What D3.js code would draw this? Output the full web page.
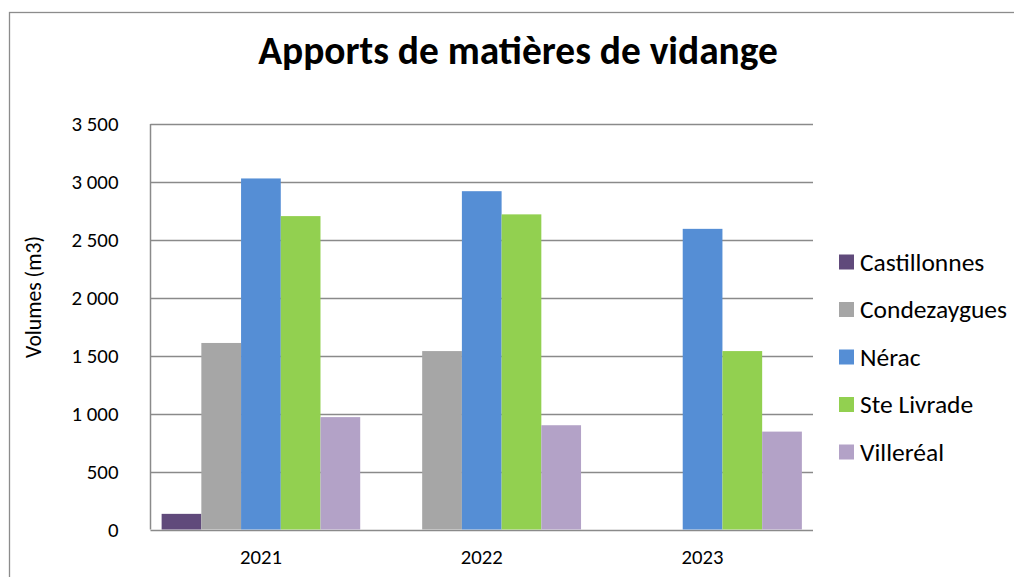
<!DOCTYPE html>
<html>
<head>
<meta charset="utf-8">
<script src="https://cdn.jsdelivr.net/npm/d3@7"></script>
<style>
  body { margin: 0; background: #fff; }
  svg text { font-family: Carlito, "Open Sans", sans-serif; fill: #000; }
</style>
</head>
<body>
<svg id="chart" width="1014" height="577"></svg>
<script>
// data
var years = ['2021', '2022', '2023'];
var seriesNames = ['Castillonnes', 'Condezaygues', 'Nérac', 'Ste Livrade', 'Villeréal'];
var castillonnes = [135, 0, 0];
var condezaygues = [1610, 1540, 0];
var nerac = [3030, 2920, 2595];
var steLivrade = [2705, 2720, 1540];
var villereal = [970, 900, 845];
var yTicks = [0, 500, 1000, 1500, 2000, 2500, 3000, 3500];

var colors = ['#604a7b', '#a6a6a6', '#558ed5', '#92d050', '#b3a2c7'];
var values = [castillonnes, condezaygues, nerac, steLivrade, villereal];

var svg = d3.select('#chart'),
    margin = {top: 124, right: 201, bottom: 47.5, left: 150.5},
    width = 1014 - margin.left - margin.right,
    height = 577 - margin.top - margin.bottom;

// shrink/grow a text so its width matches what the picture shows
function fitText(sel, targetWidth) {
    sel.style('font-size', '100px');
    var w = sel.node().getComputedTextLength();
    sel.style('font-size', (100 * targetWidth / w) + 'px');
    return sel;
}

// outer frame
svg.append('rect')
    .attr('x', 9.5).attr('y', 12.5)
    .attr('width', 1010).attr('height', 600)
    .attr('fill', 'none')
    .attr('stroke', '#8c8c8c')
    .attr('stroke-width', 1.3);

var g = svg.append('g')
    .attr('transform', 'translate(' + margin.left + ',' + margin.top + ')');

var x0 = d3.scaleBand().domain(years).range([0, width]);
var x1 = d3.scaleBand().domain(seriesNames).range([0, x0.bandwidth()]).paddingOuter(0.28);
var y = d3.scaleLinear().domain([0, 3500]).range([height, 0]);

// grid lines
g.selectAll('.grid')
    .data(yTicks)
    .enter().append('line')
    .attr('x1', 0).attr('x2', width)
    .attr('y1', function(d) { return Math.round(y(d)) + 0.5; })
    .attr('y2', function(d) { return Math.round(y(d)) + 0.5; })
    .attr('stroke', '#8a8a8a')
    .attr('stroke-width', 1.5);

// left axis line
g.append('line')
    .attr('x1', 0).attr('x2', 0)
    .attr('y1', y(3500)).attr('y2', height)
    .attr('stroke', '#8a8a8a')
    .attr('stroke-width', 1.5);

// bars
var groups = g.selectAll('.year')
    .data(years)
    .enter().append('g')
    .attr('transform', function(d) { return 'translate(' + x0(d) + ',0)'; });

groups.selectAll('rect')
    .data(function(d, i) {
        return seriesNames.map(function(s, j) { return {name: s, value: values[j][i], color: colors[j]}; });
    })
    .enter().append('rect')
    .filter(function(d) { return d.value > 0; })
    .attr('x', function(d) { return x1(d.name); })
    .attr('width', x1.bandwidth())
    .attr('y', function(d) { return y(d.value); })
    .attr('height', function(d) { return height - y(d.value); })
    .attr('fill', function(d) { return d.color; });

// y tick labels
var yLab = g.selectAll('.ytick')
    .data(yTicks)
    .enter().append('text')
    .attr('x', -32)
    .attr('y', function(d) { return y(d); })
    .attr('dy', '0.35em')
    .attr('text-anchor', 'end')
    .text(function(d) { return d3.format(',')(d).replace(',', ' '); });
var probe = yLab.filter(function(d) { return d == 3500; });
fitText(probe, 47);
yLab.style('font-size', probe.style('font-size'));

// x labels
var xLab = g.selectAll('.xtick')
    .data(years)
    .enter().append('text')
    .attr('x', function(d) { return x0(d) + x0.bandwidth() / 2; })
    .attr('y', height + 34)
    .attr('text-anchor', 'middle')
    .text(function(d) { return d; });
fitText(xLab.filter(function(d, i) { return i == 0; }), 42);
xLab.style('font-size', xLab.filter(function(d, i) { return i == 0; }).style('font-size'));

// y axis title
fitText(svg.append('text')
    .attr('transform', 'translate(41,297) rotate(-90)')
    .attr('text-anchor', 'middle')
    .text('Volumes (m3)'), 122);

// chart title
fitText(svg.append('text')
    .attr('x', 518)
    .attr('y', 64)
    .attr('text-anchor', 'middle')
    .style('font-weight', 'bold')
    .text('Apports de matières de vidange'), 520);

// legend
var legend = svg.selectAll('.legend')
    .data(seriesNames)
    .enter().append('g')
    .attr('transform', function(d, i) { return 'translate(839,' + (262 + i * 47.5) + ')'; });

legend.append('rect')
    .attr('x', 0).attr('y', -7.5)
    .attr('width', 15).attr('height', 15)
    .attr('fill', function(d, i) { return colors[i]; });

var legText = legend.append('text')
    .attr('x', 21)
    .attr('dy', '0.35em')
    .text(function(d) { return d; });
var longest = legText.filter(function(d) { return d == 'Condezaygues'; });
fitText(longest, 147);
legText.style('font-size', longest.style('font-size'));
</script>
</body>
</html>
